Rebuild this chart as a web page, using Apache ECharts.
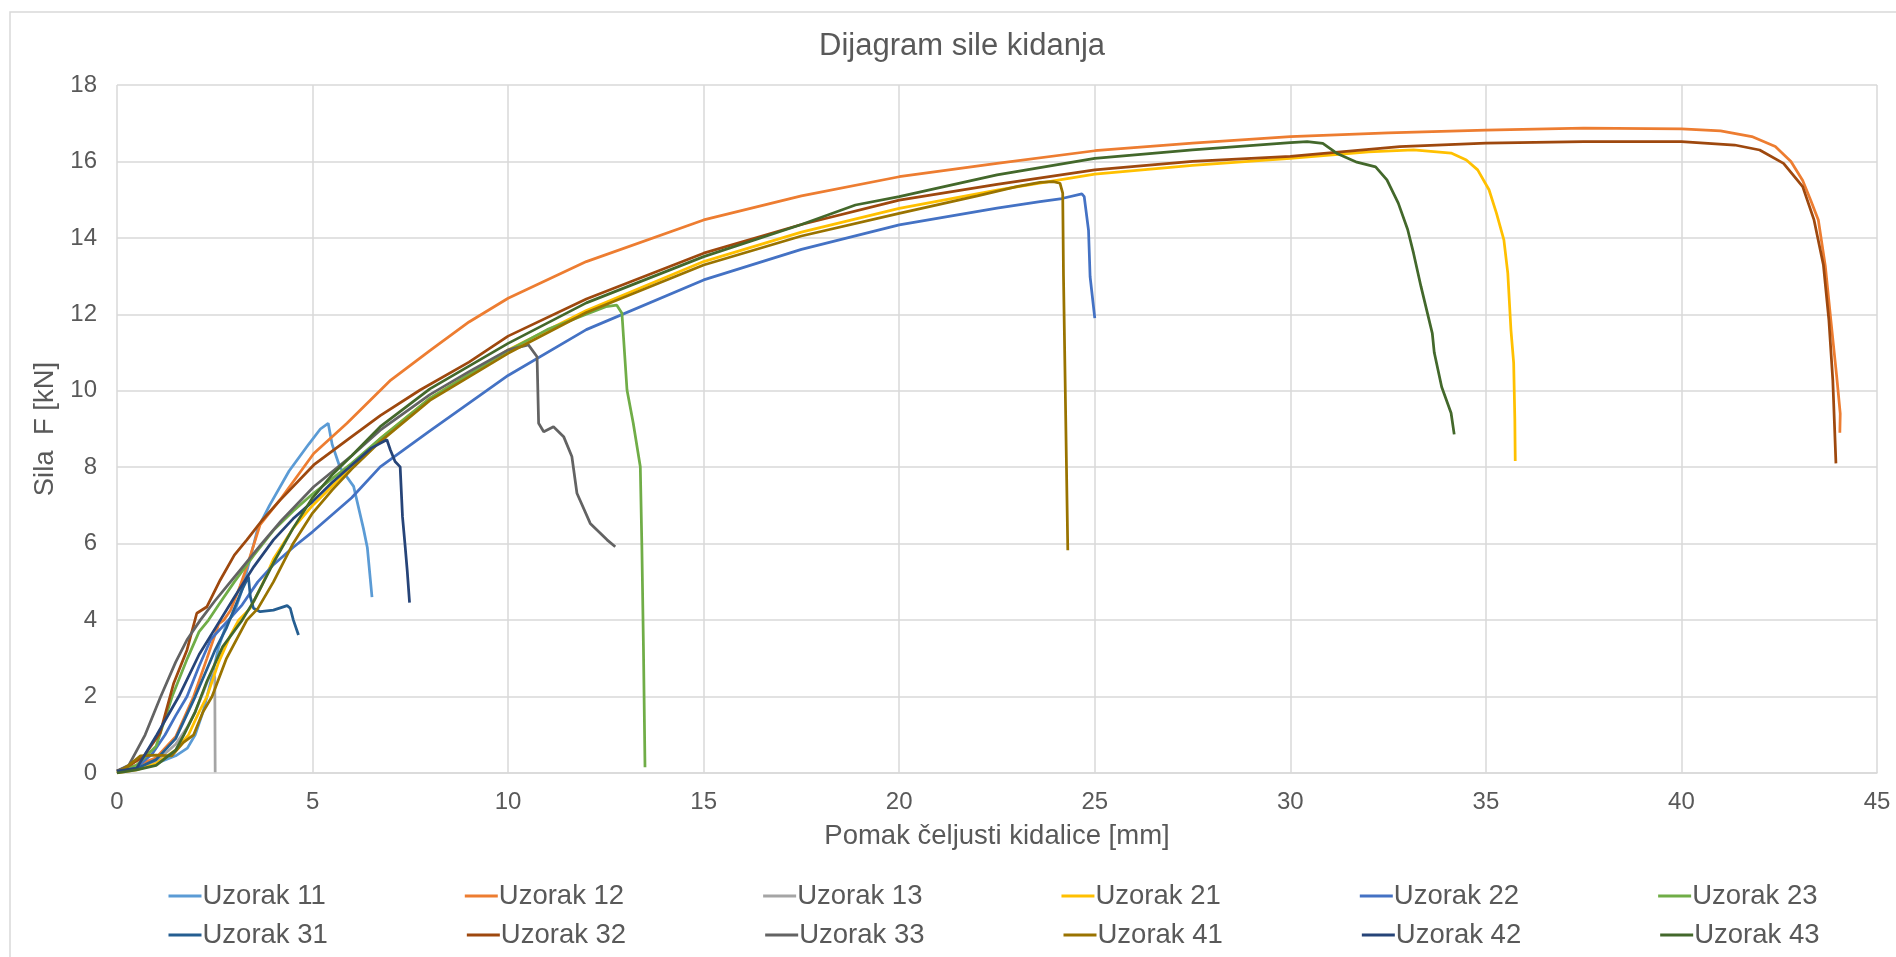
<!DOCTYPE html>
<html>
<head>
<meta charset="utf-8">
<script src="https://cdn.jsdelivr.net/npm/echarts@6/dist/echarts.min.js"></script>
<style>
html,body{margin:0;padding:0;background:#fff;}
#chart{width:1896px;height:957px;}
</style>
</head>
<body>
<div id="chart"></div>
<script>
// ---- Data (x = Pomak čeljusti kidalice [mm], y = Sila F [kN]) ----
const seriesNames = ['Uzorak 11','Uzorak 12','Uzorak 13','Uzorak 21','Uzorak 22','Uzorak 23',
                     'Uzorak 31','Uzorak 32','Uzorak 33','Uzorak 41','Uzorak 42','Uzorak 43'];
const seriesColors = ['#5B9BD5','#ED7D31','#A5A5A5','#FFC000','#4472C4','#70AD47',
                      '#255E91','#9E480E','#636363','#997300','#264478','#43682B'];

const uzorak11 = [[0,0.05],[0.5,0.1],[1.0,0.25],[1.5,0.45],[1.8,0.65],[2.0,1.0],[2.2,1.6],[2.4,2.4],[2.6,3.3],[2.8,3.9],[3.0,4.2],[3.2,4.8],[3.4,5.6],[3.6,6.4],[3.9,7.0],[4.4,7.9],[4.9,8.6],[5.2,9.0],[5.4,9.15],[5.5,8.6],[5.7,8.0],[6.05,7.5],[6.3,6.4],[6.4,5.9],[6.52,4.6]];
const uzorak12 = [[0,0.05],[0.5,0.2],[1.0,0.4],[1.5,0.95],[1.96,2.0],[2.3,3.0],[2.6,3.9],[2.73,4.0],[2.9,4.25],[3.15,4.9],[3.32,5.4],[3.66,6.5],[4.17,7.15],[5.03,8.36],[5.88,9.15],[7.0,10.28],[8.0,11.05],[9.0,11.8],[10,12.42],[12,13.38],[15,14.47],[17.5,15.1],[20,15.6],[22.5,15.95],[25,16.28],[27.5,16.48],[30,16.65],[32.5,16.75],[35,16.82],[37.5,16.87],[40,16.85],[41,16.8],[41.8,16.65],[42.4,16.39],[42.8,16.0],[43.1,15.5],[43.3,15.0],[43.5,14.47],[43.68,13.25],[43.82,11.85],[43.97,10.37],[44.06,9.4],[44.05,8.9]];
const uzorak13 = [[0,0.05],[0.5,0.1],[1.0,0.3],[1.5,0.75],[1.8,1.2],[2.0,1.6],[2.2,2.1],[2.35,2.5],[2.45,2.69],[2.5,2.5],[2.51,0.02]];
const uzorak21 = [[0,0],[0.5,0.08],[1.0,0.25],[1.5,0.6],[1.83,1.0],[2.1,1.6],[2.3,2.0],[2.6,2.9],[2.9,3.6],[3.11,4.0],[3.4,4.3],[3.7,4.9],[4.0,5.6],[4.5,6.4],[5.0,7.0],[5.5,7.5],[6.0,8.0],[6.73,8.75],[8,9.8],[10,11.07],[12,12.1],[15,13.38],[17.5,14.15],[20,14.77],[22.5,15.25],[25,15.67],[27.5,15.9],[30,16.08],[32,16.25],[33.15,16.3],[34.11,16.22],[34.5,16.04],[34.79,15.78],[35.08,15.26],[35.27,14.65],[35.46,13.95],[35.56,13.08],[35.64,11.6],[35.71,10.73],[35.74,9.25],[35.75,8.16]];
const uzorak22 = [[0,0.05],[0.5,0.15],[0.9,0.5],[1.23,1.0],[1.5,1.5],[1.79,2.0],[2.1,2.8],[2.4,3.5],[2.85,4.0],[3.2,4.4],[3.6,5.0],[4.0,5.45],[4.5,5.9],[5.0,6.31],[6.0,7.2],[6.73,8.01],[8.0,8.95],[10,10.4],[12,11.6],[15,12.9],[17.5,13.7],[20,14.34],[22.5,14.78],[23.6,14.95],[24.16,15.03],[24.67,15.15],[24.73,15.08],[24.84,14.2],[24.88,12.99],[25.0,11.9]];
const uzorak23 = [[0,0.05],[0.5,0.2],[1.0,0.7],[1.41,2.0],[1.8,3.0],[2.1,3.7],[2.34,4.0],[2.6,4.4],[3.0,5.0],[3.5,5.7],[4.0,6.35],[4.5,6.85],[5.0,7.3],[6.0,8.1],[6.73,8.75],[8,9.8],[10,11.05],[11,11.6],[12,12.0],[12.5,12.2],[12.78,12.24],[12.91,12.03],[13.04,10.02],[13.2,9.15],[13.38,8.01],[13.42,5.92],[13.46,3.3],[13.5,0.15]];
const uzorak31 = [[0,0.05],[0.5,0.12],[1.0,0.35],[1.5,0.9],[2.0,2.0],[2.5,3.2],[2.8,3.8],[3.0,4.3],[3.2,4.8],[3.36,5.14],[3.41,4.61],[3.49,4.31],[3.66,4.22],[4.0,4.26],[4.35,4.38],[4.43,4.31],[4.51,4.0],[4.64,3.61]];
const uzorak32 = [[0,0.05],[0.26,0.16],[0.68,0.43],[1.1,1.04],[1.45,2.35],[1.79,3.22],[2.04,4.18],[2.3,4.35],[2.64,5.05],[3.0,5.7],[3.32,6.1],[3.7,6.6],[4.17,7.14],[5.03,8.06],[5.88,8.71],[6.73,9.35],[7.75,10.02],[9,10.75],[10,11.43],[12,12.4],[15,13.6],[17.5,14.35],[20,14.99],[22.5,15.4],[25,15.78],[27.5,16.0],[30,16.13],[32.8,16.39],[35,16.48],[37.5,16.52],[40,16.52],[41.36,16.43],[42.0,16.3],[42.61,15.95],[43.1,15.34],[43.39,14.47],[43.63,13.29],[43.77,11.85],[43.87,10.28],[43.95,8.1]];
const uzorak33 = [[0,0.05],[0.3,0.2],[0.72,1.0],[1.11,1.98],[1.5,2.9],[1.8,3.5],[2.13,4.0],[2.5,4.5],[2.9,5.0],[3.3,5.5],[3.7,6.0],[4.2,6.6],[5.03,7.49],[6.0,8.3],[6.73,8.97],[8,9.9],[9,10.5],[10,11.07],[10.52,11.2],[10.74,10.89],[10.78,9.15],[10.91,8.93],[11.16,9.06],[11.42,8.8],[11.63,8.28],[11.76,7.32],[12.1,6.53],[12.53,6.1],[12.74,5.92]];
const uzorak41 = [[0,0],[0.3,0.2],[0.6,0.45],[1.0,0.47],[1.4,0.45],[1.7,0.8],[1.96,1.0],[2.2,1.6],[2.43,2.0],[2.8,3.0],[3.32,4.0],[3.6,4.3],[4.0,5.0],[4.5,6.0],[5.0,6.8],[5.5,7.4],[6.0,7.95],[6.73,8.67],[8,9.75],[10,10.98],[12,12.05],[15,13.29],[17.5,14.05],[20,14.64],[22,15.1],[23,15.34],[23.6,15.45],[23.94,15.47],[24.11,15.43],[24.18,15.17],[24.2,13.0],[24.31,5.83]];
const uzorak42 = [[0,0.05],[0.5,0.12],[1.02,1.0],[1.58,2.0],[2.1,3.1],[2.64,4.0],[3.0,4.6],[3.5,5.4],[4.0,6.1],[4.5,6.65],[5.0,7.1],[5.5,7.6],[6.0,8.05],[6.5,8.5],[6.9,8.72],[6.99,8.45],[7.11,8.15],[7.24,8.01],[7.3,6.7],[7.37,5.9],[7.42,5.3],[7.48,4.46]];
const uzorak43 = [[0,0],[0.5,0.08],[1.0,0.2],[1.5,0.6],[1.71,1.0],[2.0,1.6],[2.3,2.4],[2.7,3.3],[3.2,4.0],[3.5,4.5],[4.0,5.5],[4.5,6.4],[5.0,7.2],[5.5,7.8],[6.0,8.3],[6.73,9.06],[8,10.05],[10,11.24],[12,12.3],[15,13.51],[17.5,14.35],[18.88,14.86],[20,15.08],[22.5,15.65],[25,16.08],[27.5,16.3],[30,16.49],[30.43,16.52],[30.83,16.47],[31.21,16.2],[31.7,15.98],[32.18,15.86],[32.47,15.52],[32.76,14.91],[33.0,14.22],[33.15,13.6],[33.34,12.73],[33.63,11.5],[33.68,11.0],[33.87,10.1],[34.11,9.42],[34.19,8.86]];

const seriesData = [uzorak11,uzorak12,uzorak13,uzorak21,uzorak22,uzorak23,
                    uzorak31,uzorak32,uzorak33,uzorak41,uzorak42,uzorak43];

const xTicks = {min:0, max:45, interval:5};
const yTicks = {min:0, max:18, interval:2};

const FONT = '"Liberation Sans", Arial, sans-serif';
const TXT = '#595959';
const GRIDC = '#D9D9D9';

const chart = echarts.init(document.getElementById('chart'), null, {renderer:'canvas'});

const legendCommon = {
  orient:'horizontal', itemWidth:33, itemHeight:14, itemGap:139,
  textStyle:{fontFamily:FONT, fontSize:27.5, color:TXT, padding:[0,0,0,-4]},
  icon:'path://M0,5.5 L33,5.5 L33,8.5 L0,8.5 Z'
};

chart.setOption({
  backgroundColor:'#fff',
  animation:false,
  title:{text:'Dijagram sile kidanja', left:957, top:26, textAlign:'center',
    textStyle:{fontFamily:FONT, fontSize:31, fontWeight:'normal', color:TXT}},
  graphic:[{type:'rect', shape:{x:10, y:12, width:1900, height:960},
    style:{fill:'none', stroke:GRIDC, lineWidth:1.5}, silent:true}],
  grid:{left:117, right:19, top:85, bottom:184, containLabel:false},
  legend:[
    Object.assign({}, legendCommon, {left:163.5, top:877, data:seriesNames.slice(0,6)}),
    Object.assign({}, legendCommon, {left:163.5, top:916, data:seriesNames.slice(6,12)})
  ],
  xAxis:{type:'value', min:xTicks.min, max:xTicks.max, interval:xTicks.interval,
    name:'Pomak čeljusti kidalice [mm]', nameLocation:'middle', nameGap:49,
    nameTextStyle:{fontFamily:FONT, fontSize:27.5, color:TXT},
    axisLine:{show:true, lineStyle:{color:GRIDC, width:1.5}},
    axisTick:{show:false},
    axisLabel:{fontFamily:FONT, fontSize:24, color:TXT, margin:17},
    splitLine:{show:true, lineStyle:{color:GRIDC, width:1.5}}},
  yAxis:{type:'value', min:yTicks.min, max:yTicks.max, interval:yTicks.interval,
    name:'Sila  F [kN]', nameLocation:'middle', nameGap:49,
    nameTextStyle:{fontFamily:FONT, fontSize:27.5, color:TXT},
    axisLine:{show:false}, axisTick:{show:false},
    axisLabel:{fontFamily:FONT, fontSize:24, color:TXT, margin:20},
    splitLine:{show:true, lineStyle:{color:GRIDC, width:1.5}}},
  series: seriesNames.map((n,i)=>({
    name:n, type:'line', data:seriesData[i], showSymbol:false, symbol:'none',
    smooth:false, color:seriesColors[i],
    lineStyle:{color:seriesColors[i], width:2.75},
    itemStyle:{color:seriesColors[i]}
  }))
});
</script>
</body>
</html>
